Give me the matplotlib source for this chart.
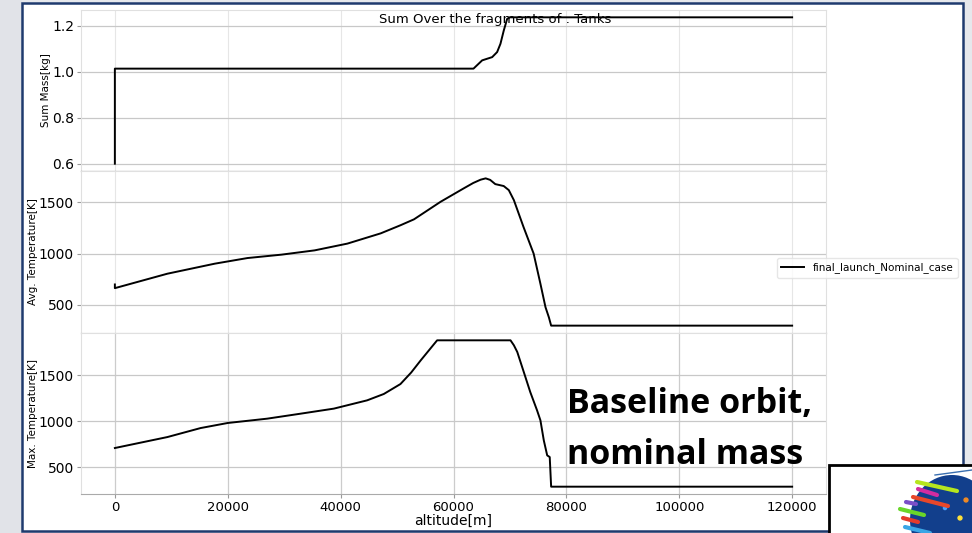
import matplotlib
matplotlib.use("Agg")
import matplotlib.pyplot as plt
from matplotlib.patches import Rectangle, Ellipse
import numpy as np

plt.rcParams['axes.unicode_minus'] = False
plt.rcParams['font.family'] = ['DejaVu Sans']

# 数据
mass_alt = [0, 0, 63540, 65080, 65960, 66850, 67730, 68320, 68900, 69500, 69960, 120000]
mass_val = [0.6, 1.013, 1.013, 1.049, 1.056, 1.063, 1.085, 1.121, 1.178, 1.229, 1.236, 1.236]

avg_alt = [0, 0, 9300, 17700, 23500, 29500, 35400, 41200, 47100, 50600, 53000, 57700,
           61800, 63500, 64800, 65700, 66500, 67400, 68900, 69800, 70700, 72400, 74200,
           75400, 76300, 76900, 77300, 120000]
avg_val = [699, 663, 804, 902, 957, 990, 1032, 1098, 1198, 1277, 1335, 1506,
           1637, 1690, 1722, 1735, 1720, 1679, 1660, 1620, 1522, 1261, 1000,
           706, 477, 378, 297, 297]

max_alt = [0, 9300, 15200, 20000, 27000, 32900, 38800, 44700, 47650, 50600, 52500, 54200,
           57100, 70100, 70700, 71300, 72450, 73600, 74800, 75400, 76000, 76600,
           77050, 77300, 120000]
max_val = [710, 829, 927, 982, 1029, 1083, 1138, 1228, 1297, 1405, 1530, 1663,
           1880, 1880, 1826, 1753, 1536, 1318, 1120, 1011, 793, 630,
           612, 290, 290]

series_label = 'final_launch_Nominal_case'
title = 'Sum Over the fragments of : Tanks'
ylabels = ['Sum Mass[kg]', 'Avg. Temperature[K]', 'Max. Temperature[K]']

W, H = 972, 533
fig = plt.figure(figsize=(W / 100, H / 100), dpi=100)
fig.patch.set_facecolor('#e6e8ec')

# 幻灯片背景和边框
bg = fig.add_axes([0, 0, 1, 1], zorder=-5)
bg.set_xlim(0, W)
bg.set_ylim(H, 0)
bg.axis('off')
bg.add_patch(Rectangle((0, 0), 22, H, facecolor='#e1e3e8', edgecolor='none'))
bg.add_patch(Rectangle((22, 3), 941, 528, facecolor='white', edgecolor='#1f3a6e', lw=1.8))


def px_axes(y0, y1):
    return [81 / W, 1 - y1 / H, (826 - 81) / W, (y1 - y0) / H]


ax1 = fig.add_axes(px_axes(10, 171))
ax2 = fig.add_axes(px_axes(171, 333), sharex=ax1)
ax3 = fig.add_axes(px_axes(333, 494), sharex=ax1)

ax1.plot(mass_alt, mass_val, color='black', lw=1.4)
ax2.plot(avg_alt, avg_val, color='black', lw=1.4, label=series_label)
ax3.plot(max_alt, max_val, color='black', lw=1.4)

for ax, lab in zip([ax1, ax2, ax3], ylabels):
    ax.set_ylabel(lab, fontsize=7.5, labelpad=0.5)
    ax.grid(True, axis='y', color='#c8c8c8', lw=0.9)
    ax.grid(True, axis='x', color='#e6e6e6', lw=0.8)
    ax.tick_params(labelsize=10, length=3, color='#999999', pad=2)
    for s in ax.spines.values():
        s.set_color('#e0e0e0')
    ax.set_axisbelow(True)

ax1.set_yticks([0.6, 0.8, 1.0, 1.2])
ax2.set_yticks([500, 1000, 1500])
ax3.set_yticks([500, 1000, 1500])
ax1.spines['bottom'].set_color('#222222')
ax2.spines['bottom'].set_color('#aaaaaa')
ax3.spines['bottom'].set_color('#aaaaaa')
ax3.grid(True, axis='x', color='#cccccc', lw=0.9)
ax1.tick_params(axis='x', labelbottom=False, length=0)
ax2.tick_params(axis='x', labelbottom=False, length=0)
ax3.set_xticks([0, 20000, 40000, 60000, 80000, 100000, 120000])
ax3.tick_params(axis='x', labelsize=9.5)
ax3.set_xlabel('altitude[m]', fontsize=10, labelpad=0)

fig.text(495 / W, 1 - 20 / H, title, ha='center', va='center', fontsize=9.5)

fig.legend(loc='center left', bbox_to_anchor=(772 / W, 1 - 268 / H), fontsize=7.5,
           frameon=True, edgecolor='#e0e0e0', handlelength=2.2, borderpad=0.4)

# 标注文字
fig.text(567 / W, 1 - 413 / H, 'Baseline orbit,', family='Open Sans', weight='bold',
         fontsize=24.5, va='baseline', ha='left')
fig.text(567 / W, 1 - 464 / H, 'nominal mass', family='Open Sans', weight='bold',
         fontsize=24.5, va='baseline', ha='left')

# 右下角徽标
fg = fig.add_axes([0, 0, 1, 1], zorder=10)
fg.set_xlim(0, W)
fg.set_ylim(H, 0)
fg.axis('off')
fg.patch.set_alpha(0)
fg.add_patch(Rectangle((829, 465), 160, 90, facecolor='white', edgecolor='black', lw=2))
fg.add_patch(Ellipse((952, 520), 84, 90, facecolor='#123f8c', edgecolor='none'))
fg.plot([935, 972], [475, 470], color='#3a6fb0', lw=1)
streaks = [((917, 482), (957, 491), '#b6e61e'),
           ((918, 489), (937, 495), '#d22ca0'),
           ((913, 497), (948, 506), '#e8472a'),
           ((906, 502), (916, 504), '#7a4fc8'),
           ((900, 509), (924, 515), '#6ad62a'),
           ((903, 518), (918, 522), '#e33b2b'),
           ((905, 527), (930, 533), '#3aa6e6')]
for (x0, y0), (x1, y1), c in streaks:
    fg.plot([x0, x1], [y0, y1], color=c, lw=3, solid_capstyle='round')
fg.scatter([966, 960, 945], [500, 518, 508], s=[8, 8, 5], color=['#f08a24', '#ffe23a', '#4aa0ff'])

fig.savefig('out.png', dpi=100)
